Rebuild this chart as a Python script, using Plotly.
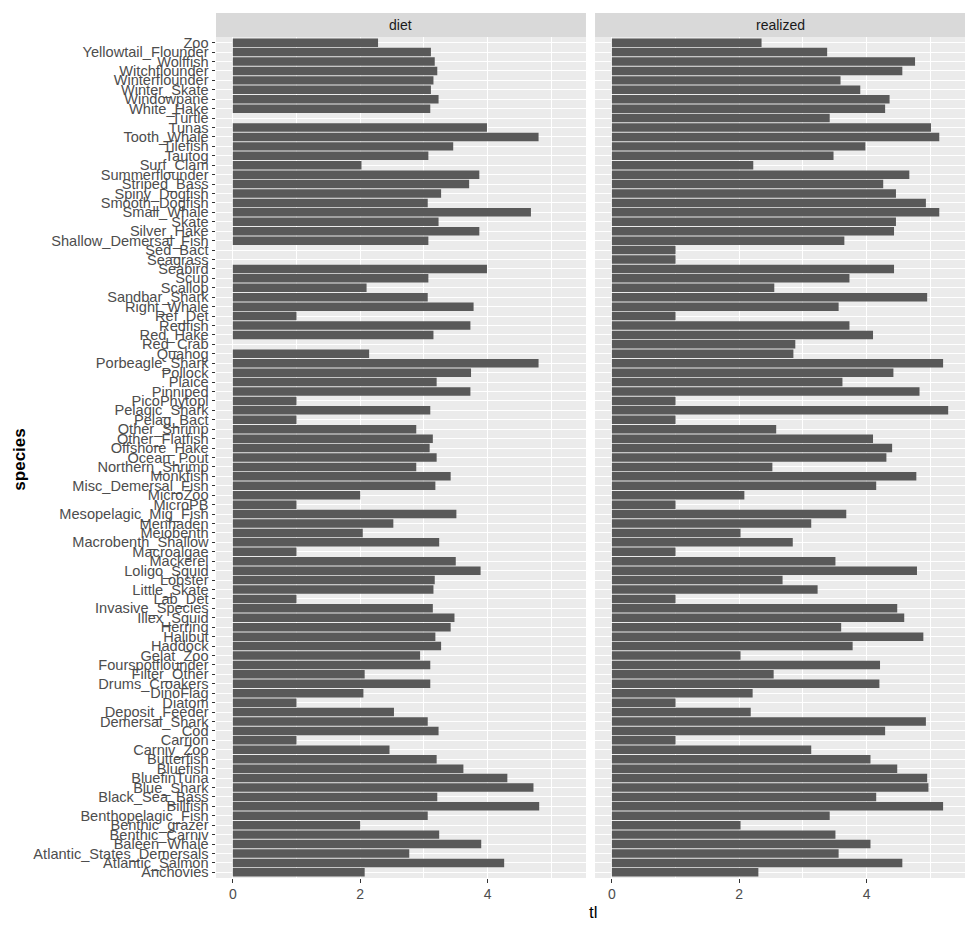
import plotly.graph_objects as go
from plotly.subplots import make_subplots

# species, bottom -> top (alphabetical, as ggplot orders factor levels)
species = ['Anchovies', 'Atlantic_Salmon', 'Atlantic_States_Demersals', 'Baleen_Whale',
           'Benthic_Carniv', 'Benthic_grazer', 'Benthopelagic_Fish', 'Billfish',
           'Black_Sea_Bass', 'Blue_Shark', 'BluefinTuna', 'Bluefish', 'Butterfish',
           'Carniv_Zoo', 'Carrion', 'Cod', 'Demersal_Shark', 'Deposit_Feeder', 'Diatom',
           'DinoFlag', 'Drums_Croakers', 'Filter_Other', 'Fourspotflounder', 'Gelat_Zoo',
           'Haddock', 'Halibut', 'Herring', 'Illex_Squid', 'Invasive_Species', 'Lab_Det',
           'Little_Skate', 'Lobster', 'Loligo_Squid', 'Mackerel', 'Macroalgae',
           'Macrobenth_Shallow', 'Meiobenth', 'Menhaden', 'Mesopelagic_Mig_Fish', 'MicroPB',
           'MicroZoo', 'Misc_Demersal_Fish', 'Monkfish', 'Northern_Shrimp', 'Ocean_Pout',
           'Offshore_Hake', 'Other_Flatfish', 'Other_Shrimp', 'Pelag_Bact', 'Pelagic_Shark',
           'PicoPhytopl', 'Pinniped', 'Plaice', 'Pollock', 'Porbeagle_Shark', 'Quahog',
           'Red_Crab', 'Red_Hake', 'Redfish', 'Ref_Det', 'Right_Whale', 'Sandbar_Shark',
           'Scallop', 'Scup', 'Seabird', 'Seagrass', 'Sed_Bact', 'Shallow_Demersal_Fish',
           'Silver_Hake', 'Skate', 'Small_Whale', 'Smooth_Dogfish', 'Spiny_Dogfish',
           'Striped_Bass', 'Summerflounder', 'Surf_Clam', 'Tautog', 'Tilefish', 'Tooth_Whale',
           'Tunas', 'Turtle', 'White_Hake', 'Windowpane', 'Winter_Skate', 'Winterflounder',
           'Witchflounder', 'Wolffish', 'Yellowtail_Flounder', 'Zoo']

# trophic level from diet composition (None = no bar)
tl_diet = [2.07, 4.26, 2.77, 3.90,
           3.24, 2.00, 3.06, 4.81,
           3.21, 4.72, 4.31, 3.62, 3.20,
           2.46, 1.00, 3.23, 3.06, 2.53, 1.00,
           2.05, 3.10, 2.07, 3.10, 2.94,
           3.27, 3.18, 3.42, 3.48, 3.14, 1.00,
           3.15, 3.17, 3.89, 3.50, 1.00,
           3.24, 2.04, 2.52, 3.51, 1.00,
           2.00, 3.18, 3.42, 2.88, 3.20,
           3.09, 3.14, 2.88, 1.00, 3.10,
           1.00, 3.73, 3.20, 3.74, 4.80, 2.14,
           None, 3.15, 3.73, 1.00, 3.78, 3.06,
           2.10, 3.07, 3.99, None, None, 3.07,
           3.87, 3.23, 4.68, 3.06, 3.27,
           3.71, 3.87, 2.02, 3.07, 3.46, 4.80,
           3.99, None, 3.10, 3.23, 3.11, 3.15,
           3.21, 3.17, 3.11, 2.28]

# realized trophic level
tl_real = [2.30, 4.56, 3.56, 4.06,
           3.51, 2.02, 3.42, 5.20,
           4.15, 4.97, 4.95, 4.48, 4.06,
           3.13, 1.00, 4.29, 4.93, 2.18, 1.00,
           2.21, 4.20, 2.54, 4.21, 2.02,
           3.78, 4.89, 3.60, 4.59, 4.48, 1.00,
           3.23, 2.68, 4.79, 3.51, 1.00,
           2.84, 2.02, 3.13, 3.68, 1.00,
           2.08, 4.15, 4.78, 2.52, 4.31,
           4.40, 4.10, 2.58, 1.00, 5.28,
           1.00, 4.83, 3.62, 4.42, 5.20, 2.85,
           2.88, 4.10, 3.73, 1.00, 3.56, 4.95,
           2.55, 3.73, 4.43, 1.00, 1.00, 3.65,
           4.43, 4.46, 5.14, 4.93, 4.46,
           4.26, 4.67, 2.22, 3.48, 3.98, 5.14,
           5.01, 3.42, 4.29, 4.36, 3.90, 3.59,
           4.56, 4.76, 3.38, 2.35]

facets = ['diet', 'realized']

# page is drawn with an 8px body margin, so work in page pixels and subtract it
off = 8
W, H = 975 - off, 931 - off
pl, pr, pt, pb = 215.5, 965, 37, 878   # panel edges in page pixels
ml, mr, mt = pl - off, W + off - pr, pt - off
mb = H + off - pb
plot_w = pr - pl
plot_h = pb - pt
gap = 9.1

def px(x):
    return (x - pl) / plot_w

def py(y):
    return (pb - y) / plot_h

font = 'Liberation Sans, Arial'

fig = make_subplots(rows=1, cols=2, shared_yaxes=True, horizontal_spacing=gap / plot_w)

for i, vals in enumerate([tl_diet, tl_real]):
    fig.add_trace(go.Bar(x=vals, y=species, orientation='h', width=0.9,
                         marker=dict(color='#595959', line_width=0),
                         showlegend=False, hoverinfo='x+y'),
                  row=1, col=i + 1)

allv = [v for v in tl_diet + tl_real if v is not None]
xmax = max(allv)
xr = [-0.05 * xmax, xmax * 1.05]

fig.update_xaxes(range=xr, tickmode='linear', tick0=0, dtick=2,
                 showgrid=True, gridcolor='white', gridwidth=1.1,
                 minor=dict(dtick=1, tick0=0, showgrid=True, gridcolor='white', gridwidth=0.5, ticks=''),
                 ticks='outside', ticklen=3.5, tickwidth=1, tickcolor='#333333',
                 tickfont=dict(family=font, size=14, color='#4D4D4D'),
                 zeroline=False, showline=False, fixedrange=True)
fig.update_yaxes(type='category', categoryorder='array', categoryarray=species,
                 range=[-0.6, len(species) - 0.4],
                 tickmode='array', tickvals=species, ticktext=species,
                 showgrid=True, gridcolor='white', gridwidth=1.1,
                 ticks='outside', ticklen=3.5, tickwidth=1, tickcolor='#333333',
                 tickfont=dict(family=font, size=14.6, color='#4D4D4D'),
                 zeroline=False, showline=False, fixedrange=True)
fig.update_yaxes(ticks='', row=1, col=2)

# facet strips
strip_h = 24 / plot_h
for i, name in enumerate(facets):
    xref = 'x domain' if i == 0 else 'x2 domain'
    fig.add_shape(type='rect', xref=xref, yref='paper', x0=0, x1=1, y0=1, y1=1 + strip_h,
                  fillcolor='#D9D9D9', line_width=0, layer='below')
    fig.add_annotation(xref=xref, yref='paper', x=0.5, y=1 + strip_h / 2, text=name,
                       showarrow=False, xanchor='center', yanchor='middle',
                       font=dict(family=font, size=14, color='#1A1A1A'))

fig.add_annotation(xref='paper', yref='paper', x=px(593), y=py(912),
                   text='tl', showarrow=False, xanchor='center', yanchor='middle',
                   font=dict(family=font, size=17, color='black'))

fig.add_annotation(xref='paper', yref='paper', x=px(18), y=py(460),
                   text='<b>species</b>', textangle=-90, showarrow=False,
                   xanchor='center', yanchor='middle',
                   font=dict(family=font, size=17, color='black'))

fig.update_layout(width=W, height=H, margin=dict(l=ml, r=mr, t=mt, b=mb, autoexpand=False),
                  plot_bgcolor='#EBEBEB', paper_bgcolor='white', bargap=0.1)

fig.write_html('out.html')
